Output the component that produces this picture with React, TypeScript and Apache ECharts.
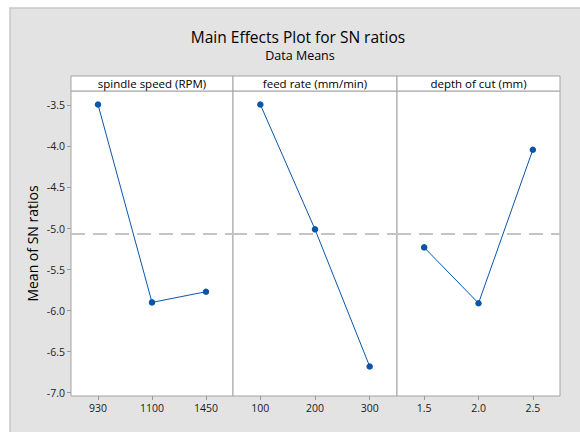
import React, { useEffect, useRef } from "react";
import * as echarts from "echarts";

const factorNames = ["spindle speed (RPM)", "feed rate (mm/min)", "depth of cut (mm)"];
const levelsSpeed = ["930", "1100", "1450"];
const levelsFeed = ["100", "200", "300"];
const levelsDepth = ["1.5", "2.0", "2.5"];
const snSpeed = [-3.49, -5.9, -5.77];
const snFeed = [-3.49, -5.01, -6.68];
const snDepth = [-5.23, -5.91, -4.04];
const overallMean = -5.06;
const yTickValues = [-7.0, -6.5, -6.0, -5.5, -5.0, -4.5, -4.0, -3.5];
const titleText = "Main Effects Plot for SN ratios";
const subtitleText = "Data Means";
const yAxisTitle = "Mean of SN ratios";

const FONT = "'Open Sans', 'Noto Sans', sans-serif";
const BLUE = "#0a55a8";

export default function App() {
  const ref = useRef<HTMLDivElement>(null);
  useEffect(() => {
    if (!ref.current) return;
    const chart = echarts.init(ref.current, null, { renderer: "svg" });
    const panels = [
      { left: 71, width: 162, cats: levelsSpeed, data: snSpeed },
      { left: 233, width: 164, cats: levelsFeed, data: snFeed },
      { left: 397, width: 163, cats: levelsDepth, data: snDepth },
    ];
    const top = 91;
    const height = 305;
    const yMin = -7.04;
    const yMax = -3.325;

    const grids = panels.map((p) => ({
      left: p.left,
      top,
      width: p.width,
      height,
      show: true,
      backgroundColor: "#ffffff",
      borderColor: "#a3a3a3",
      borderWidth: 1,
    }));
    const xAxes = panels.map((p, i) => ({
      type: "category" as const,
      gridIndex: i,
      data: p.cats,
      boundaryGap: true,
      axisLine: { show: false },
      axisTick: { show: true, alignWithLabel: true, length: 4, lineStyle: { color: "#9a9a9a" } },
      axisLabel: { color: "#1a1a1a", fontFamily: FONT, fontSize: 10.5, margin: 6 },
      splitLine: { show: false },
    }));
    const yAxes = panels.map((p, i) => ({
      type: "value" as const,
      gridIndex: i,
      min: yMin,
      max: yMax,
      show: i === 0,
      name: i === 0 ? yAxisTitle : "",
      nameLocation: "middle" as const,
      nameRotate: 90,
      nameGap: 32,
      nameTextStyle: { fontFamily: FONT, fontSize: 14, color: "#000", fontWeight: 500 },
      axisLine: { show: false },
      axisTick: {
        show: i === 0,
        length: 4,
        customValues: yTickValues,
        lineStyle: { color: "#9a9a9a" },
      },
      axisLabel: {
        show: i === 0,
        customValues: yTickValues,
        color: "#222",
        fontFamily: FONT,
        fontSize: 10.5,
        margin: 6,
        formatter: (v: number) =>
          yTickValues.some((t) => Math.abs(t - v) < 1e-6) ? v.toFixed(1) : "",
      },
      splitLine: { show: false },
    }));
    const series = panels.map((p, i) => ({
      type: "line" as const,
      xAxisIndex: i,
      yAxisIndex: i,
      data: p.data,
      symbol: "circle",
      symbolSize: 6.5,
      lineStyle: { color: BLUE, width: 1 },
      itemStyle: { color: BLUE },
      markLine: {
        silent: true,
        symbol: "none",
        label: { show: false },
        lineStyle: { color: "#c4c4c4", width: 2, type: [14, 8] },
        data: [{ yAxis: overallMean }],
      },
    }));

    const headerGraphics = panels.flatMap((p, i) => [
      {
        type: "rect",
        shape: { x: p.left, y: 76, width: p.width, height: 15 },
        style: { fill: "#ffffff", stroke: "#a3a3a3", lineWidth: 1 },
        z: 10,
      },
      {
        type: "text",
        x: p.left + p.width / 2,
        y: 83.5,
        style: {
          text: factorNames[i],
          align: "center",
          verticalAlign: "middle",
          fontFamily: FONT,
          fontSize: 11.5,
          fill: "#000",
        },
        z: 11,
      },
    ]);

    chart.setOption({
      animation: false,
      backgroundColor: "#ffffff",
      grid: grids,
      xAxis: xAxes,
      yAxis: yAxes,
      series,
      graphic: [
        {
          type: "rect",
          shape: { x: 10, y: 8, width: 580, height: 440 },
          style: { fill: "#e3e3e3", stroke: "#c9c9c9", lineWidth: 1.5 },
          z: -100,
          silent: true,
        },
        {
          type: "text",
          x: 298,
          y: 37,
          style: {
            text: titleText,
            align: "center",
            verticalAlign: "middle",
            fontFamily: FONT,
            fontSize: 15.5,
            fontWeight: 500,
            fill: "#000",
          },
        },
        {
          type: "text",
          x: 300,
          y: 55,
          style: {
            text: subtitleText,
            align: "center",
            verticalAlign: "middle",
            fontFamily: FONT,
            fontSize: 12.5,
            fontWeight: 500,
            fill: "#000",
          },
        },
        ...headerGraphics,
      ],
    });
    return () => chart.dispose();
  }, []);
  return (
    <div
      ref={ref}
      style={{ position: "fixed", left: 0, top: 0, width: 580, height: 432 }}
    />
  );
}
